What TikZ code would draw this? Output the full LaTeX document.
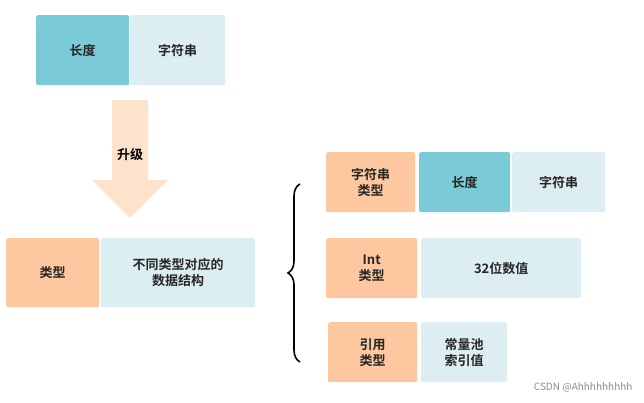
\documentclass[tikz,border=0pt]{standalone}
\usepackage{fontspec}
\setmainfont{Noto Sans CJK SC}[BoldFont={* Bold}]
\usetikzlibrary{decorations.pathreplacing}
\definecolor{teal}{HTML}{7ACAD8}
\definecolor{lite}{HTML}{DDEEF2}
\definecolor{peach}{HTML}{FDC8A0}
\definecolor{arr}{HTML}{FDE3CC}
\begin{document}
\begin{tikzpicture}[x=1pt,y=-1pt,
  bx/.style={anchor=north west,inner sep=0pt,rounded corners=2pt,font=\bfseries\fontsize{13}{16}\selectfont,align=center,text=black!85}]
\useasboundingbox (0,0) rectangle (644,403);
\fill[white] (0,0) rectangle (644,403);
\node[bx,fill=teal,minimum width=93pt,minimum height=70pt] (a1) at (36,15) {长度};
\node[bx,fill=lite,minimum width=95pt,minimum height=70pt] (a2) at (130,15) {字符串};
\fill[arr] (112,100) -- (148,100) -- (148,180) -- (168,180) -- (130,218) -- (92,180) -- (112,180) -- cycle;
\node[font=\bfseries\fontsize{13}{16}\selectfont] (up) at (130,155) {升级};
\node[bx,fill=peach,minimum width=93pt,minimum height=69pt] (b1) at (6,238) {类型};
\node[bx,fill=lite,minimum width=154pt,minimum height=69pt] (b2) at (101,238) {不同类型对应的\\数据结构};
\coordinate (bt) at (300,184);
\coordinate (bb) at (300,362);
\draw[line width=1.6pt,decorate,decoration={brace,amplitude=12pt,mirror}] (bt) -- (bb);
\node[bx,fill=peach,minimum width=89pt,minimum height=60pt] (c1) at (326,152) {字符串\\类型};
\node[bx,fill=teal,minimum width=91pt,minimum height=60pt] (c2) at (419,152) {长度};
\node[bx,fill=lite,minimum width=93pt,minimum height=60pt] (c3) at (512,152) {字符串};
\node[bx,fill=peach,minimum width=91pt,minimum height=60pt] (d1) at (326,238) {Int\\类型};
\node[bx,fill=lite,minimum width=160pt,minimum height=60pt] (d2) at (421,238) {32位数值};
\node[bx,fill=peach,minimum width=89pt,minimum height=60pt] (e1) at (328,322) {引用\\类型};
\node[bx,fill=lite,minimum width=86pt,minimum height=60pt] (e2) at (421,322) {常量池\\索引值};
\node[anchor=east,text=black!45,font=\fontsize{10}{12}\selectfont] (wm) at (636,387) {CSDN @Ahhhhhhhhh};
\end{tikzpicture}
\end{document}
